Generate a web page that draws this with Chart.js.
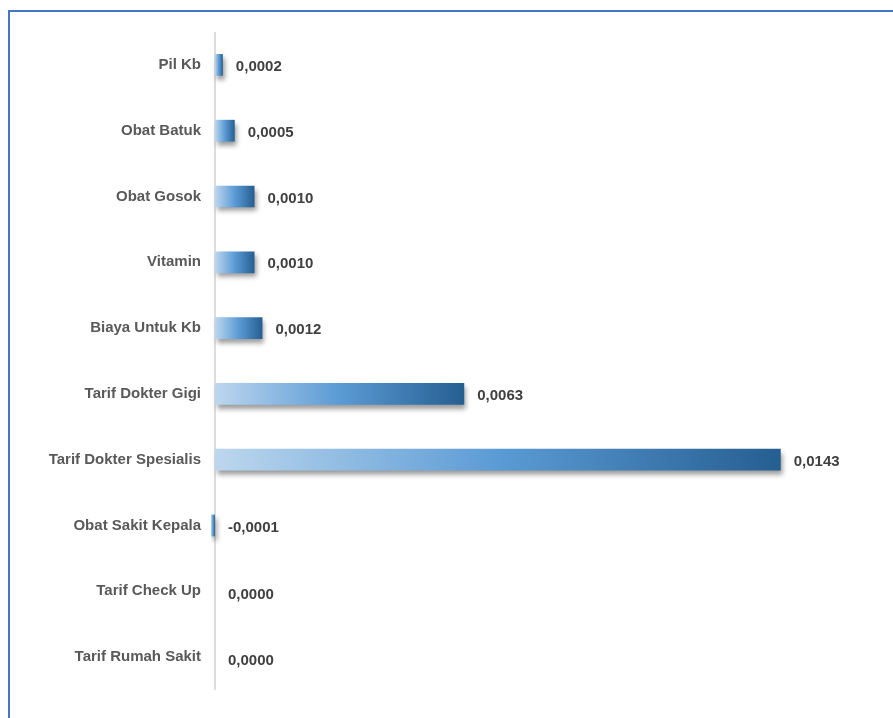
<!DOCTYPE html>
<html>
<head>
<meta charset="utf-8">
<script src="https://cdn.jsdelivr.net/npm/chart.js@4"></script>
<style>
  html, body { margin: 0; padding: 0; background: #fff; overflow: hidden; }
  #wrap { position: relative; width: 893px; height: 718px; }
  #frame { position: absolute; left: 8px; top: 10px; width: 900px; height: 720px;
           border-top: 2px solid #4675c8; border-left: 2px solid #4675c8; }
  canvas { position: absolute; left: 0; top: 0; }
</style>
</head>
<body>
<div id="wrap">
  <div id="frame"></div>
  <canvas id="graf" width="893" height="718"></canvas>
</div>
<script>
// Kategori dan nilai
const kategori = [
  "Pil Kb", "Obat Batuk", "Obat Gosok", "Vitamin", "Biaya Untuk Kb",
  "Tarif Dokter Gigi", "Tarif Dokter Spesialis", "Obat Sakit Kepala",
  "Tarif Check Up", "Tarif Rumah Sakit"
];
const nilai = [0.0002, 0.0005, 0.0010, 0.0010, 0.0012, 0.0063, 0.0143, -0.0001, 0.0000, 0.0000];

// Format angka gaya Indonesia (koma sebagai desimal)
const fmt = (v) => v.toFixed(4).replace(".", ",");

// Gradasi per batang, dari nol ke ujung batang
function warnaBatang(ctx) {
  const chart = ctx.chart;
  const x = chart.scales.x;
  if (!x || !chart.chartArea) return "#5b9bd5";
  const v = nilai[ctx.dataIndex];
  const x0 = x.getPixelForValue(0);
  let x1 = x.getPixelForValue(v);
  if (Math.abs(x1 - x0) < 1) x1 = x0 + (v < 0 ? -1 : 1);
  const g = chart.ctx.createLinearGradient(Math.min(x0, x1), 0, Math.max(x0, x1), 0);
  g.addColorStop(0, "#bdd7ee");
  g.addColorStop(0.5, "#5b9bd5");
  g.addColorStop(1, "#255e91");
  return g;
}

// Garis nol, bayangan batang dan label nilai
const hiasan = {
  id: "hiasan",
  beforeDatasetsDraw(chart) {
    const c = chart.ctx;
    const x0 = chart.scales.x.getPixelForValue(0);
    c.save();
    c.strokeStyle = "#dcdcdc";
    c.lineWidth = 2;
    c.beginPath();
    c.moveTo(x0, chart.chartArea.top);
    c.lineTo(x0, chart.chartArea.bottom);
    c.stroke();
    c.restore();
    c.save();
    c.shadowColor = "rgba(0,0,0,0.4)";
    c.shadowBlur = 5;
    c.shadowOffsetX = 2;
    c.shadowOffsetY = 4;
  },
  afterDatasetsDraw(chart) {
    const c = chart.ctx;
    c.restore();
    c.save();
    c.font = "bold 15px 'Liberation Sans', Arial, sans-serif";
    c.fillStyle = "#404040";
    c.textBaseline = "middle";
    c.textAlign = "left";
    const x0 = chart.scales.x.getPixelForValue(0);
    chart.getDatasetMeta(0).data.forEach((bar, i) => {
      const xe = Math.max(bar.x, x0);
      const dy = nilai[i] === 0 ? 4 : 2;
      c.fillText(fmt(nilai[i]), xe + 13, bar.y + dy);
    });
    c.restore();
  }
};

new Chart(document.getElementById("graf"), {
  type: "bar",
  data: {
    labels: kategori,
    datasets: [{
      data: nilai,
      backgroundColor: warnaBatang,
      borderWidth: 0,
      barPercentage: 0.33,
      categoryPercentage: 1
    }]
  },
  plugins: [hiasan],
  options: {
    indexAxis: "y",
    responsive: false,
    animation: false,
    layout: { padding: { top: 32, bottom: 28, right: 45, left: 0 } },
    plugins: { legend: { display: false }, tooltip: { enabled: false } },
    scales: {
      x: {
        display: false,
        min: -0.0001,
        max: 0.0160
      },
      y: {
        grid: { display: false, drawTicks: false },
        border: { display: false },
        ticks: {
          color: "#595959",
          font: { family: "'Liberation Sans', Arial, sans-serif", size: 15, weight: "bold" },
          padding: 10
        },
        afterFit(scale) { scale.width = 211; }
      }
    }
  }
});
</script>
</body>
</html>
